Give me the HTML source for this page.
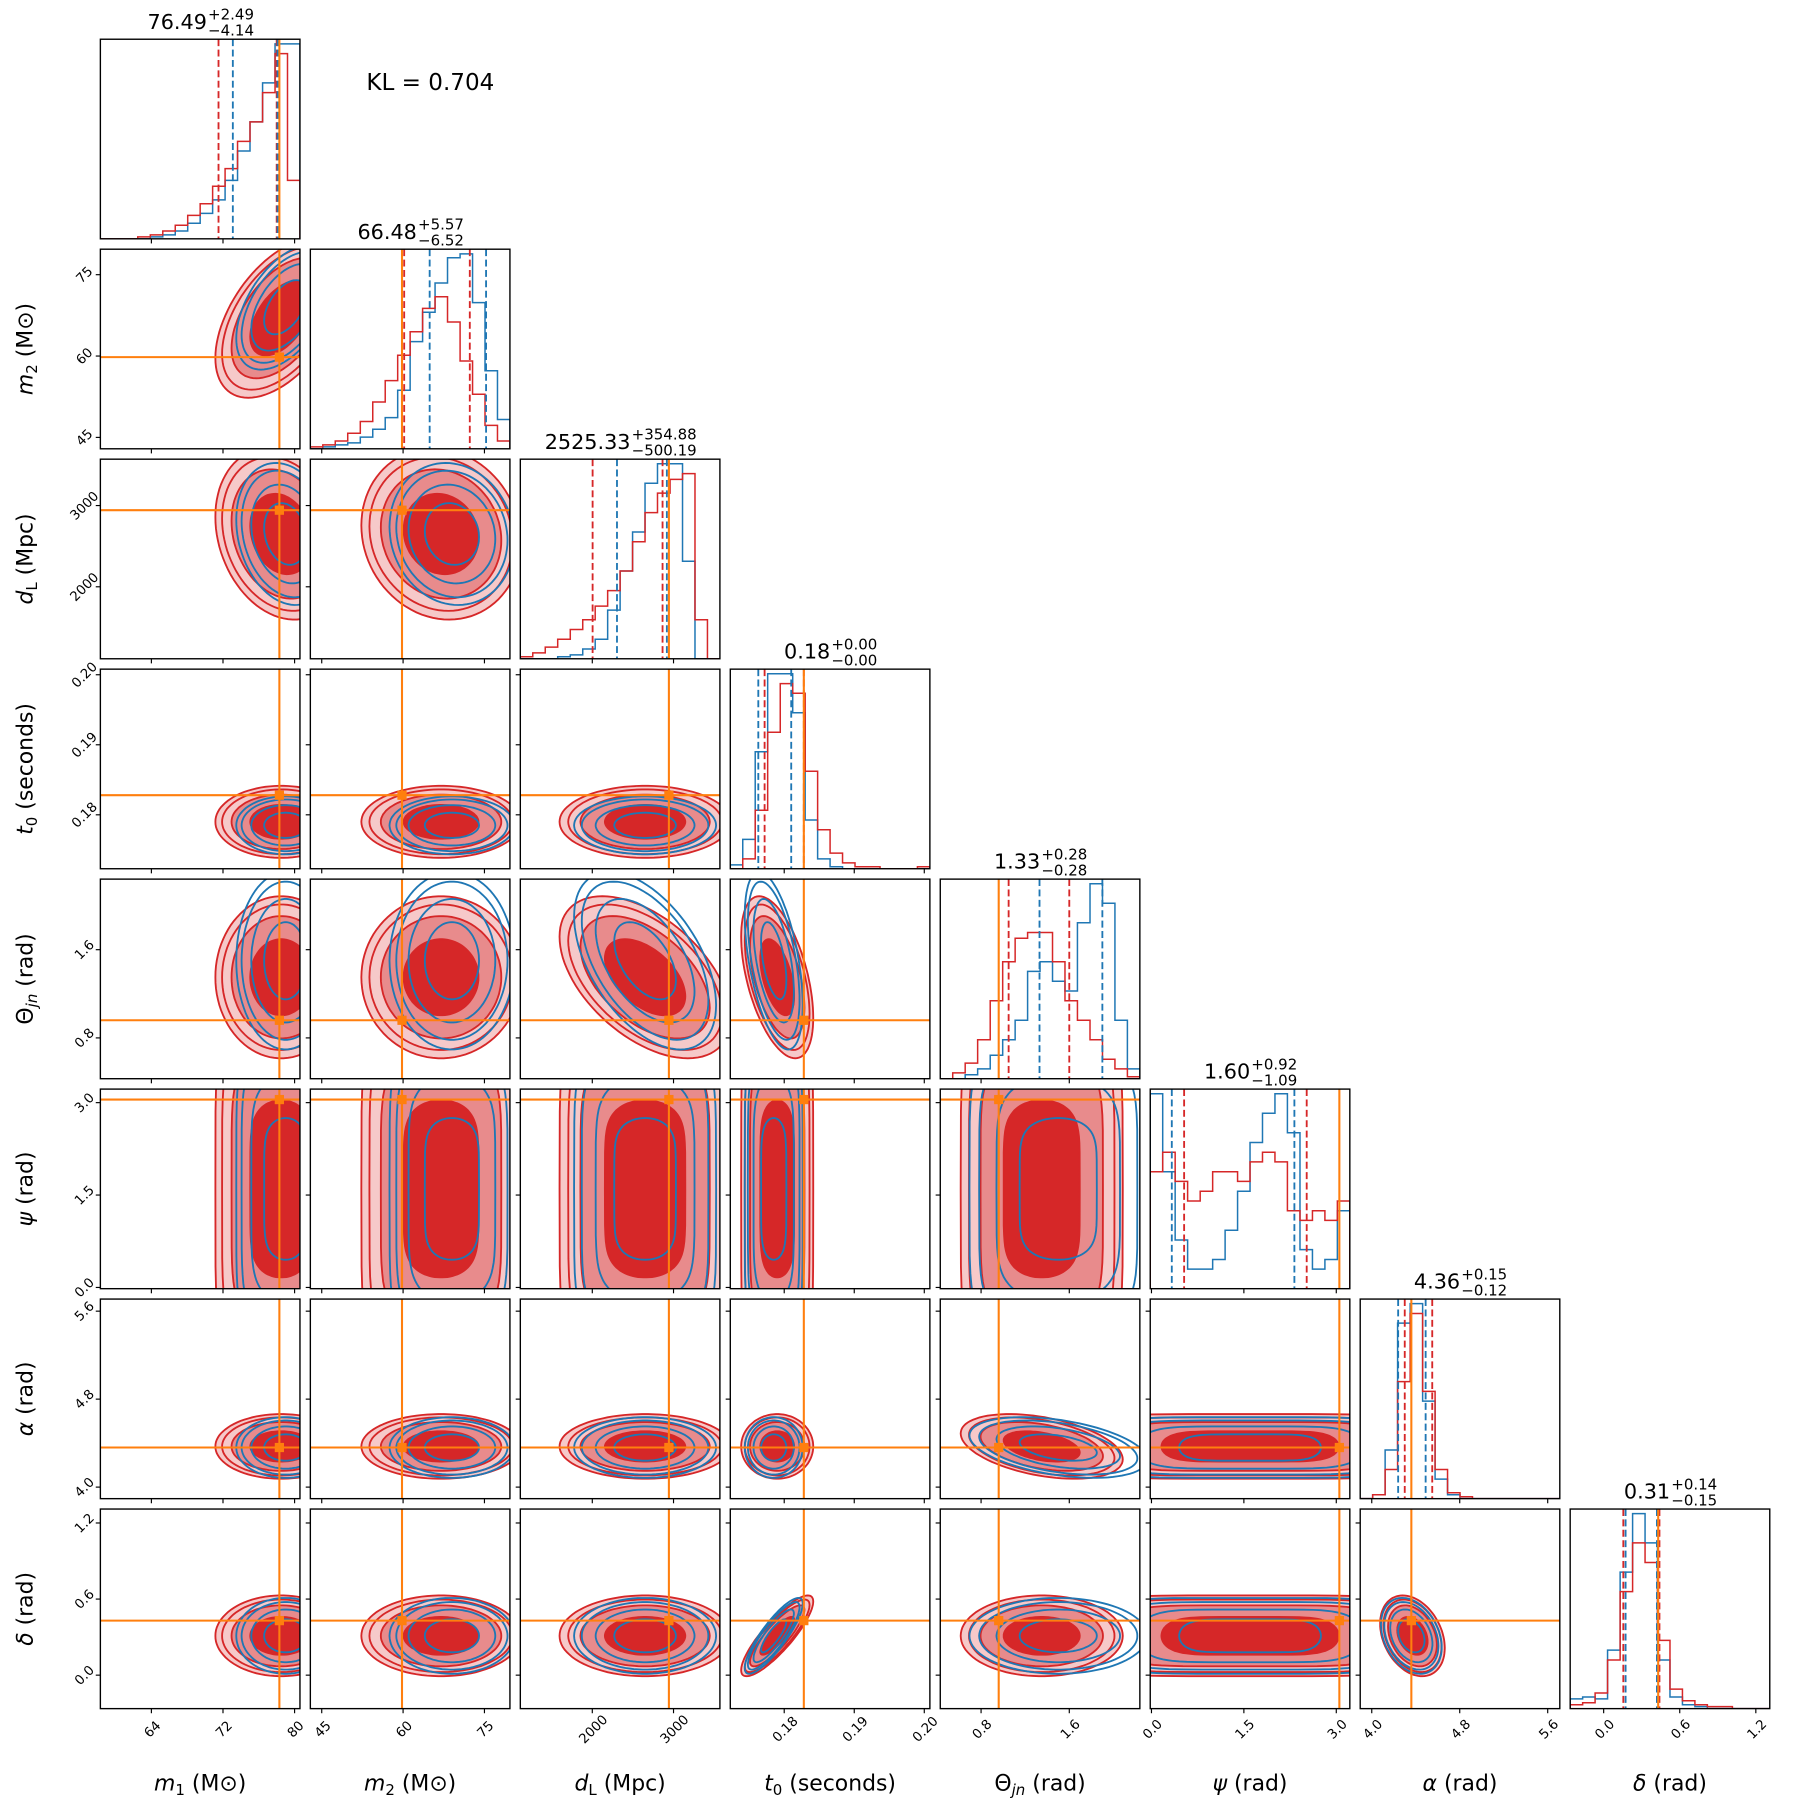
<!DOCTYPE html>
<html><head><meta charset="utf-8"><style>
html,body{margin:0;padding:0;background:#fff}
svg{display:block}
text{font-family:"DejaVu Sans","Liberation Sans",sans-serif;fill:#000}
</style></head><body>
<svg id="fig" xmlns="http://www.w3.org/2000/svg" width="1809" height="1809" viewBox="0 0 1568 1568"></svg>
<script>
// ---- data ----
const varNames = ["m1","m2","dL","t0","theta_jn","psi","alpha","delta"];
const axisSym = ["m","m","d","t","\u0398","\u03c8","\u03b1","\u03b4"];
const axisSub = ["1","2","L","0","jn","","",""];
const axisUnit = [" (M\u2299)"," (M\u2299)"," (Mpc)"," (seconds)"," (rad)"," (rad)"," (rad)"," (rad)"];
const rangeMin = [58.3, 42.9, 1114, 0.1723, 0.43, -0.02, 3.895, -0.264];
const rangeMax = [80.6, 79.7, 3571, 0.2008, 2.24, 3.22, 5.71, 1.31];
const tickValues = [[64,72,80],[45,60,75],[2000,3000],[0.18,0.19,0.20],[0.8,1.6],[0.0,1.5,3.0],[4.0,4.8,5.6],[0.0,0.6,1.2]];
const tickLabels = [["64","72","80"],["45","60","75"],["2000","3000"],["0.18","0.19","0.20"],["0.8","1.6"],["0.0","1.5","3.0"],["4.0","4.8","5.6"],["0.0","0.6","1.2"]];
const truthValues = [78.3, 59.8, 2943, 0.1828, 0.96, 3.05, 4.36, 0.43];
const titleMain = ["76.49","66.48","2525.33","0.18","1.33","1.60","4.36","0.31"];
const titlePlus = ["2.49","5.57","354.88","0.00","0.28","0.92","0.15","0.14"];
const titleMinus = ["4.14","6.52","500.19","0.00","0.28","1.09","0.12","0.15"];
const redQuant = [[71.5,78.0],[60.2,72.3],[2004,2865],[0.1772,0.1828],[1.05,1.60],[0.53,2.52],[4.30,4.55],[0.155,0.44]];
const blueQuant = [[73.1,78.1],[64.9,75.3],[2304,2918],[0.1763,0.1810],[1.33,1.90],[0.33,2.32],[4.24,4.49],[0.173,0.42]];
const redHist = [
 [0,0,0,0.01,0.02,0.04,0.07,0.12,0.18,0.27,0.36,0.5,0.6,0.75,0.95,0.3],
 [0.01,0.02,0.04,0.08,0.14,0.24,0.35,0.48,0.6,0.72,0.78,0.65,0.45,0.28,0.12,0.04],
 [0.01,0.03,0.06,0.1,0.15,0.2,0.27,0.35,0.45,0.6,0.75,0.85,0.92,0.95,0.2,0],
 [0,0.05,0.3,0.7,0.95,0.9,0.5,0.2,0.08,0.03,0.01,0.01,0,0,0,0.01],
 [0,0.03,0.08,0.2,0.4,0.6,0.72,0.75,0.75,0.6,0.4,0.3,0.2,0.1,0.05,0.01],
 [0.6,0.7,0.55,0.45,0.5,0.6,0.6,0.55,0.65,0.7,0.65,0.4,0.35,0.4,0.35,0.45],
 [0,0.02,0.15,0.6,0.95,0.55,0.15,0.03,0.01,0,0,0,0,0,0,0],
 [0.02,0.03,0.08,0.25,0.6,0.85,0.75,0.35,0.1,0.04,0.02,0.01,0.01,0,0,0]];
const blueHist = [
 [0,0,0,0,0.01,0.02,0.04,0.08,0.13,0.2,0.3,0.45,0.6,0.8,1.0,1.0],
 [0,0.01,0.02,0.03,0.06,0.1,0.16,0.3,0.55,0.7,0.85,0.98,1.0,0.75,0.4,0.15],
 [0,0,0,0.01,0.02,0.05,0.1,0.25,0.45,0.65,0.9,1.0,1.0,0.5,0,0],
 [0.02,0.15,0.6,1.0,1.0,0.8,0.25,0.05,0.01,0,0,0,0,0,0,0],
 [0,0,0.02,0.05,0.12,0.2,0.3,0.55,0.6,0.5,0.45,0.8,1.0,0.9,0.3,0.05],
 [1.0,0.6,0.25,0.1,0.1,0.15,0.3,0.5,0.75,0.9,1.0,0.8,0.2,0.1,0.15,0.4],
 [0,0.02,0.25,0.9,1.0,0.5,0.1,0.02,0,0,0,0,0,0,0,0],
 [0.05,0.06,0.05,0.3,0.7,1.0,0.85,0.25,0.06,0.02,0.01,0,0,0,0,0]];
const redMean = [78.5, 67, 2650, 0.1790, 1.35, 1.6, 4.37, 0.31];
const redSd = [3.0, 6, 430, 0.0021, 0.3, 1.25, 0.12, 0.13];
const blueMean = [79, 69, 2650, 0.1785, 1.5, 1.6, 4.36, 0.31];
const blueSd = [2.4, 5, 380, 0.0018, 0.35, 1.15, 0.12, 0.13];
const corrPairs = [[0,1,0.5],[2,4,-0.5],[3,4,-0.5],[3,7,0.85],[4,6,-0.4],[6,7,-0.3],[0,2,-0.2],[1,2,-0.1]];
const shapePower = [2,2,2,2,2,6,2,2];

// ---- layout ----
const X0=87, Y0=34, PITCH=182, SIZE=173, N=8;
const svg=document.getElementById('fig');
const NS="http://www.w3.org/2000/svg";
function mk(tag,attrs,parent){const e=document.createElementNS(NS,tag);for(const k in attrs)e.setAttribute(k,attrs[k]);(parent||svg).appendChild(e);return e;}
function px(i,c,v){return X0+c*PITCH+(v-rangeMin[i])/(rangeMax[i]-rangeMin[i])*SIZE;}
function py(j,r,v){return Y0+r*PITCH+SIZE-(v-rangeMin[j])/(rangeMax[j]-rangeMin[j])*SIZE;}
function corr(a,b){for(const p of corrPairs){if((p[0]===a&&p[1]===b)||(p[0]===b&&p[1]===a))return p[2];}return 0;}
const RED="#d62728", BLUE="#1f77b4", ORANGE="#ff7f0e";
function sp(u,p){return Math.sign(u)*Math.pow(Math.abs(u),2/p);}

function ellipse(i,j,c,r,mean,sd,k){
  const rho=corr(i,j), q=Math.sqrt(1-rho*rho); let pts=[];
  for(let t=0;t<=90;t++){const a=t/90*2*Math.PI;
    const u=sp(Math.cos(a),shapePower[i]), v=sp(Math.sin(a),shapePower[j]);
    const xv=mean[i]+k*sd[i]*u, yv=mean[j]+k*sd[j]*(rho*u+q*v);
    pts.push(px(i,c,xv).toFixed(1)+","+py(j,r,yv).toFixed(1));}
  return pts.join(" ");
}

const kl=mk('text',{x:373,y:78,'font-size':20,'text-anchor':'middle'});kl.textContent="KL = 0.704";



for(let r=0;r<N;r++){for(let c=0;c<=r;c++){
  const x=X0+c*PITCH, y=Y0+r*PITCH;
  const g=mk('g',{});
  
  
  const cid='clip'+r+'_'+c;
  const cp=mk('clipPath',{id:cid},g);mk('rect',{x:x,y:y,width:SIZE,height:SIZE},cp);
  const inner=mk('g',{'clip-path':'url(#'+cid+')'},g);
  if(r===c){
    const i=c;
    const drawHist=(h,col,name)=>{const nb=h.length;let d="";
      for(let b=0;b<nb;b++){const v0=rangeMin[i]+(rangeMax[i]-rangeMin[i])*b/nb,v1=rangeMin[i]+(rangeMax[i]-rangeMin[i])*(b+1)/nb;
        const yy=y+SIZE-h[b]*(SIZE-4);
        d+=(b===0?"M"+px(i,c,v0)+","+(y+SIZE):"")+" L"+px(i,c,v0).toFixed(1)+","+yy.toFixed(1)+" L"+px(i,c,v1).toFixed(1)+","+yy.toFixed(1);}
      d+=" L"+(x+SIZE)+","+(y+SIZE);
      const p=mk('path',{d:d,fill:'none',stroke:col,'stroke-width':1.3},inner);
      
      };
    drawHist(blueHist[i],BLUE,'histogram-blue');
    drawHist(redHist[i],RED,'histogram-red');
    for(const q of redQuant[i]){const l=mk('line',{x1:px(i,c,q),x2:px(i,c,q),y1:y,y2:y+SIZE,stroke:RED,'stroke-width':1.6,'stroke-dasharray':'6,3'},inner);
      }
    for(const q of blueQuant[i]){const l=mk('line',{x1:px(i,c,q),x2:px(i,c,q),y1:y,y2:y+SIZE,stroke:BLUE,'stroke-width':1.6,'stroke-dasharray':'6,3'},inner);
      }
    const tl=mk('line',{x1:px(i,c,truthValues[i]),x2:px(i,c,truthValues[i]),y1:y,y2:y+SIZE,stroke:ORANGE,'stroke-width':1.8},inner);
    
    const tg=mk('g',{},g);
    
    const tm=mk('text',{x:0,y:y-9,'font-size':18},tg);tm.textContent=titleMain[i];
    const tp=mk('text',{x:0,y:y-17,'font-size':13},tg);tp.textContent="+"+titlePlus[i];
    const tn=mk('text',{x:0,y:y-3,'font-size':13},tg);tn.textContent="\u2212"+titleMinus[i];
    const wm=tm.getComputedTextLength(), ws=Math.max(tp.getComputedTextLength(),tn.getComputedTextLength());
    const sx=x+SIZE/2-(wm+ws)/2;
    tm.setAttribute('x',sx);tp.setAttribute('x',sx+wm+1);tn.setAttribute('x',sx+wm+1);
  } else {
    const i=c,j=r;
    const fills=[[2.45,'#f6c9c9'],[1.85,'#e88b8c'],[1.15,RED]];
    for(const f of fills){const p=mk('polygon',{points:ellipse(i,j,c,r,redMean,redSd,f[0]),fill:f[1],stroke:'none'},inner);
      }
    for(const k of [1.15,1.85,2.2,2.45]){const p=mk('polygon',{points:ellipse(i,j,c,r,redMean,redSd,k),fill:'none',stroke:RED,'stroke-width':1.6},inner);
      }
    for(const k of [1.0,1.6,2.05,2.3]){const p=mk('polygon',{points:ellipse(i,j,c,r,blueMean,blueSd,k),fill:'none',stroke:BLUE,'stroke-width':1.6},inner);
      }
    const tx=px(i,c,truthValues[i]), ty=py(j,r,truthValues[j]);
    const v=mk('line',{x1:tx,x2:tx,y1:y,y2:y+SIZE,stroke:ORANGE,'stroke-width':1.8},inner);
    
    const h=mk('line',{x1:x,x2:x+SIZE,y1:ty,y2:ty,stroke:ORANGE,'stroke-width':1.8},inner);
    
    const m=mk('rect',{x:tx-4,y:ty-4,width:8,height:8,fill:ORANGE},inner);
    
    tickValues[j].forEach((tv,k)=>{const yy=py(j,r,tv);if(yy<y||yy>y+SIZE)return;
      mk('line',{x1:x-4,x2:x,y1:yy,y2:yy,stroke:'#000','stroke-width':1},g);
      if(c===0){const tt=mk('text',{x:x-14,y:yy+4,'font-size':11.5,'text-anchor':'middle',transform:'rotate(-45 '+(x-14)+' '+yy+')'},g);
        tt.textContent=tickLabels[j][k];}});
  }
  tickValues[c].forEach((tv,k)=>{const xx=px(c,c,tv);if(xx<x||xx>x+SIZE)return;
    mk('line',{x1:xx,x2:xx,y1:y+SIZE,y2:y+SIZE+4,stroke:'#000','stroke-width':1},g);
    if(r===N-1){const tt=mk('text',{x:xx,y:y+SIZE+22,'font-size':11.5,'text-anchor':'middle',transform:'rotate(-45 '+xx+' '+(y+SIZE+17)+')'},g);
      tt.textContent=tickLabels[c][k];}});
  mk('rect',{x:x,y:y,width:SIZE,height:SIZE,fill:'none',stroke:'#000','stroke-width':1.2},g);
}}
function label(t,idx){
  const a=mk('tspan',{'font-style':axisSym[idx]==='\u0398'?'normal':'italic'},t);a.textContent=axisSym[idx];
  if(axisSub[idx]){const b=mk('tspan',{'font-size':13,dy:4,'font-style':axisSub[idx]==='jn'?'italic':'normal'},t);b.textContent=axisSub[idx];
    const u=mk('tspan',{dy:-4},t);u.textContent=axisUnit[idx];}
  else{const u=mk('tspan',{},t);u.textContent=axisUnit[idx];}
}
for(let c=0;c<N;c++){const t=mk('text',{x:X0+c*PITCH+SIZE/2,y:1552,'font-size':19,'text-anchor':'middle'});
  label(t,c);}
for(let r=1;r<N;r++){const cy=Y0+r*PITCH+SIZE/2;const t=mk('text',{x:28,y:cy,'font-size':19,'text-anchor':'middle',transform:'rotate(-90 28 '+cy+')'});
  label(t,r);}
</script>
</body></html>
